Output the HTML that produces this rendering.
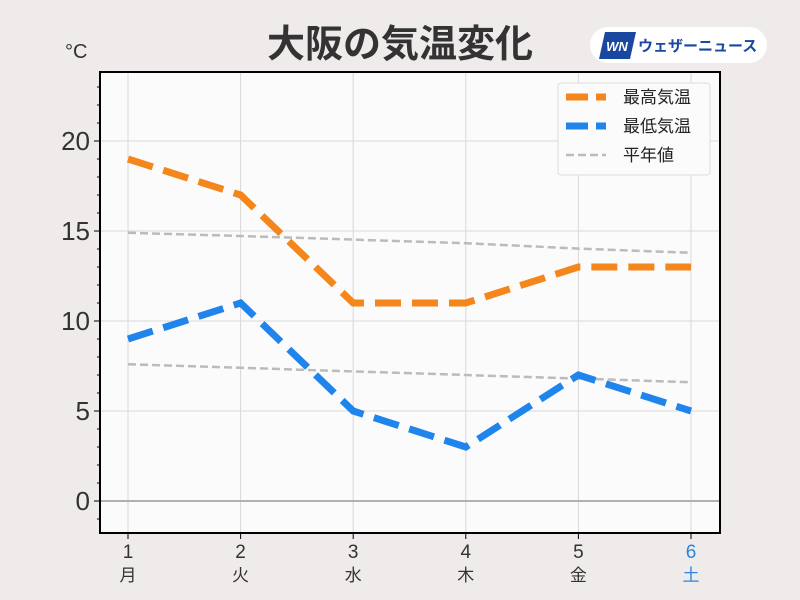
<!DOCTYPE html><html><head><meta charset="utf-8"><style>body{margin:0;background:#eeebea}svg{display:block}text{font-family:"Liberation Sans","Noto Sans CJK JP",sans-serif}</style></head><body>
<svg width="800" height="600" xmlns="http://www.w3.org/2000/svg">
<rect width="800" height="600" fill="#eeebea"/>
<text x="400" y="57" text-anchor="middle" font-size="38" font-weight="bold" fill="#333" font-family="Noto Sans CJK JP,sans-serif">大阪の気温変化</text>
<rect x="590" y="27" width="177" height="36" rx="18" fill="#fff"/>
<polygon points="605,32 636,32 630,59 599,59" fill="#1a47a0"/>
<text x="617" y="51" text-anchor="middle" font-size="13" font-weight="bold" font-style="italic" fill="#fff">WN</text>
<text x="638" y="51" font-size="15" font-weight="bold" fill="#1a47a0" font-family="Noto Sans CJK JP,sans-serif">ウェザーニュース</text>
<text x="65" y="58" font-size="20" fill="#333">°C</text>
<rect x="100" y="72" width="620" height="461" fill="#fcfbfb"/>
<g stroke="#d8d8d8" stroke-width="1">
<line x1="128" y1="72" x2="128" y2="533"/><line x1="240.6" y1="72" x2="240.6" y2="533"/><line x1="353.2" y1="72" x2="353.2" y2="533"/><line x1="465.8" y1="72" x2="465.8" y2="533"/><line x1="578.4" y1="72" x2="578.4" y2="533"/><line x1="691" y1="72" x2="691" y2="533"/>
<line x1="100" y1="141" x2="720" y2="141"/><line x1="100" y1="231" x2="720" y2="231"/><line x1="100" y1="321" x2="720" y2="321"/><line x1="100" y1="411" x2="720" y2="411"/>
</g>
<line x1="100" y1="501" x2="720" y2="501" stroke="#b0b0b0" stroke-width="2"/>
<g stroke="#bbb" stroke-width="2.5" stroke-dasharray="8,4" fill="none">
<polyline points="128,232.8 240.6,236 353.2,239.6 465.8,243.2 578.4,248.6 691,252.8"/>
<polyline points="128,364.2 240.6,367.8 353.2,371.4 465.8,375 578.4,378.6 691,382.2"/>
</g>
<g stroke-width="7" stroke-dasharray="26,11" fill="none">
<polyline stroke="#f5861b" points="128,159 240.6,195 353.2,303 465.8,303 578.4,267 691,267"/>
<polyline stroke="#1f84ec" points="128,339 240.6,303 353.2,411 465.8,447 578.4,375 691,411"/>
</g>
<rect x="100" y="72" width="620" height="461" fill="none" stroke="#000" stroke-width="2"/>
<g stroke="#000" stroke-width="1">
<line x1="94" y1="141" x2="100" y2="141"/><line x1="94" y1="231" x2="100" y2="231"/><line x1="94" y1="321" x2="100" y2="321"/><line x1="94" y1="411" x2="100" y2="411"/><line x1="94" y1="501" x2="100" y2="501"/>
<path d="M97 87H100M97 105H100M97 123H100M97 159H100M97 177H100M97 195H100M97 213H100M97 249H100M97 267H100M97 285H100M97 303H100M97 339H100M97 357H100M97 375H100M97 393H100M97 429H100M97 447H100M97 465H100M97 483H100M97 519H100"/>
<path d="M128 533V539M240.6 533V539M353.2 533V539M465.8 533V539M578.4 533V539M691 533V539"/>
</g>
<g font-size="26" fill="#333" text-anchor="end">
<text x="90" y="150">20</text><text x="90" y="240">15</text><text x="90" y="330">10</text><text x="90" y="420">5</text><text x="90" y="510">0</text>
</g>
<g font-size="19" fill="#333" text-anchor="middle">
<text x="128" y="558">1</text><text x="240.6" y="558">2</text><text x="353.2" y="558">3</text><text x="465.8" y="558">4</text><text x="578.4" y="558">5</text><text x="691" y="558" fill="#2a86e0">6</text>
</g>
<g font-size="17" fill="#333" text-anchor="middle" font-family="Noto Sans CJK JP,sans-serif">
<text x="128" y="581">月</text><text x="240.6" y="581">火</text><text x="353.2" y="581">水</text><text x="465.8" y="581">木</text><text x="578.4" y="581">金</text><text x="691" y="581" fill="#2a86e0">土</text>
</g>
<rect x="558" y="83" width="152" height="92" rx="3" fill="#fcfbfb" stroke="#ddd"/>
<line x1="566" y1="97" x2="606" y2="97" stroke="#f5861b" stroke-width="7" stroke-dasharray="22,8"/>
<line x1="566" y1="126" x2="606" y2="126" stroke="#1f84ec" stroke-width="7" stroke-dasharray="22,8"/>
<line x1="566" y1="155" x2="606" y2="155" stroke="#bbb" stroke-width="2.5" stroke-dasharray="8,4"/>
<g font-size="17" fill="#222" font-family="Noto Sans CJK JP,sans-serif">
<text x="623" y="103">最高気温</text><text x="623" y="132">最低気温</text><text x="623" y="161">平年値</text>
</g>
</svg></body></html>
